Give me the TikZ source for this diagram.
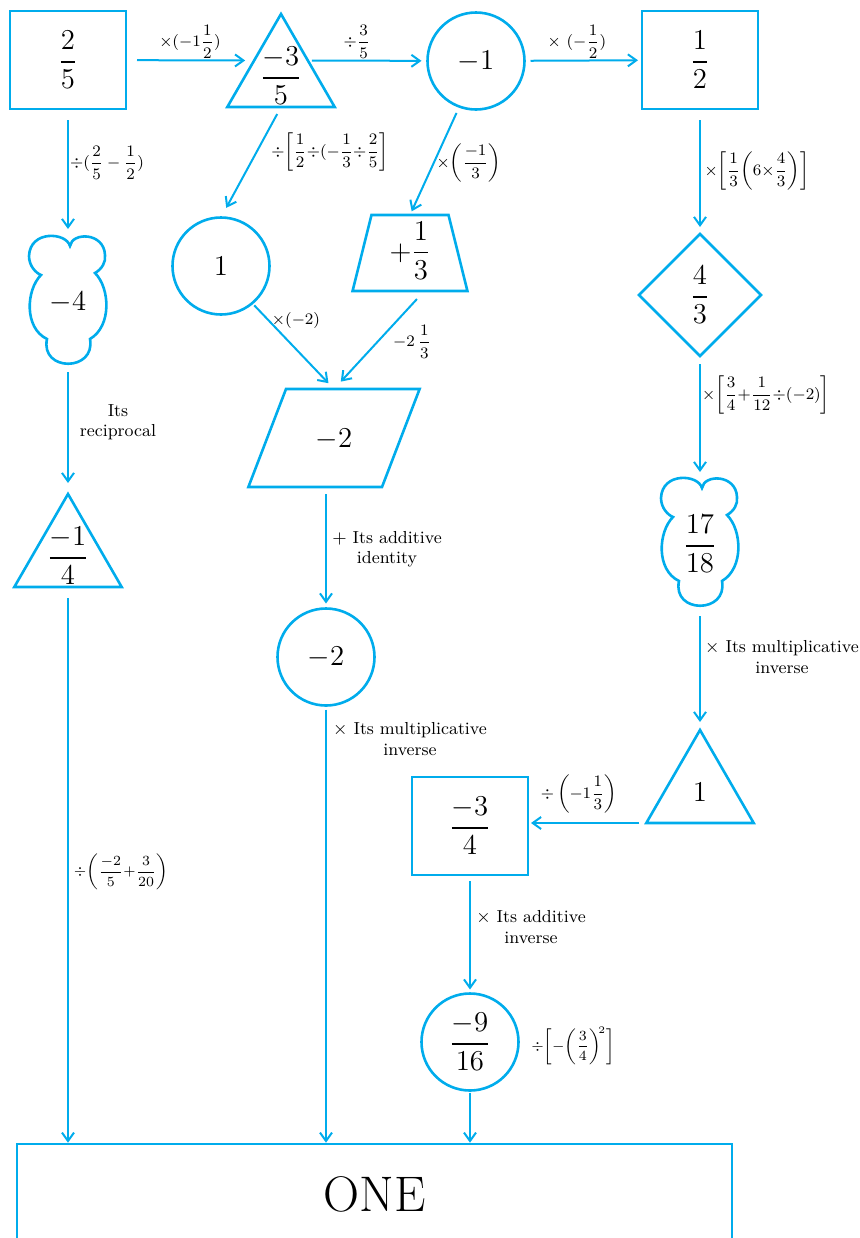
\documentclass[tikz,border=0pt]{standalone}
\usepackage{amsmath,amssymb}
\usepackage{xcolor}
\usepackage{tikz}
\usetikzlibrary{shapes.geometric, positioning, calc, arrows.meta}

\definecolor{flowblue}{RGB}{0,172,236}

\tikzset{
  outline/.style={draw=flowblue, line width=1.3pt},
  numbox/.style={outline, rectangle, minimum width=58pt, minimum height=49pt, inner sep=0pt, outer sep=0pt},
  numcirc/.style={outline, circle, minimum size=48.5pt, inner sep=0pt, outer sep=0pt},
  numtri/.style={outline, regular polygon, regular polygon sides=3, minimum size=62pt, inner sep=-4pt, outer sep=0pt},
  numdiam/.style={outline, diamond, aspect=1, minimum size=61pt, inner sep=0pt, outer sep=0pt},
  numtrap/.style={outline, trapezium, trapezium left angle=76, trapezium right angle=76,
    inner sep=0pt, outer sep=0pt, text width=38.5pt, align=center, text height=22.5pt, text depth=15.5pt},
  numpara/.style={outline, trapezium, trapezium left angle=69, trapezium right angle=111,
    inner sep=0pt, outer sep=0pt, text width=48pt, align=center, text height=29pt, text depth=20pt},
  numblob/.style={rectangle, minimum width=38.5pt, minimum height=63pt, inner sep=0pt, outer sep=0pt},
  flow/.style={draw=flowblue, line width=1pt, -{Straight Barb[length=4.2pt,width=6pt]}},
  oplabel/.style={font=\fontsize{8}{9.6}\selectfont, inner sep=1pt},
  wordlabel/.style={font=\fontsize{8.7}{10.2}\selectfont, align=center, inner sep=1pt},
}
\newcommand{\numfont}{\fontsize{14}{17}\selectfont}
% cloud outline round a named node
\newcommand{\blobpath}[1]{%
  \draw[outline, shift={(#1.center)}] (2,-56)
    .. controls (-2,-70) and (-38,-72) .. (-39,-46)
    .. controls (-39,-36) and (-32,-29) .. (-27,-27)
    .. controls (-42,-12) and (-44,26) .. (-21,37)
    .. controls (-28,70) and (28,70) .. (22,37)
    .. controls (44,24) and (42,-14) .. (27,-29)
    .. controls (34,-33) and (38,-40) .. (37,-47)
    .. controls (36,-70) and (4,-70) .. (2,-56) -- cycle;}

\begin{document}
\begin{tikzpicture}[x=0.5pt, y=-0.5pt]

  \useasboundingbox (0,0) rectangle (860,1238);
  \clip (0,0) rectangle (860,1238);

  % Top row
  \node[numbox]  (twofifth)      at (68,60)  {\numfont $\dfrac{2}{5}$};
  \node[numtri]  (negthreefifth) at (281,76) {\numfont $\dfrac{-3}{5}$};
  \node[numcirc] (negone)        at (476,61) {\numfont $-1$};
  \node[numbox]  (half)          at (700,60) {\numfont $\dfrac{1}{2}$};

  % Left column
  \node[numblob] (negfour)    at (68,302) {\numfont $-4$};
  \node[numtri]  (negquarter) at (68,556) {\numfont $\dfrac{-1}{4}$};
  \blobpath{negfour}

  % Middle part
  \node[numcirc] (unit)       at (221,266) {\numfont $1$};
  \node[numtrap] (thirdplus)  at (410,253) {\numfont $+\dfrac{1}{3}$};
  \node[numpara] (negtwopara) at (334,438) {\numfont $-2$};
  \node[numcirc] (negtwocirc) at (326,657) {\numfont $-2$};

  % Right column
  \node[numdiam] (fourthird)       at (700,295)  {\numfont $\dfrac{4}{3}$};
  \node[numblob] (seventeen)       at (700,544)  {\numfont $\dfrac{17}{18}$};
  \node[numtri]  (unittri)         at (700,792)  {\numfont $1$};
  \node[numbox]  (negthreequarter) at (470,826)  {\numfont $\dfrac{-3}{4}$};
  \node[numcirc] (negninesixteen)  at (470,1042) {\numfont $\dfrac{-9}{16}$};
  \blobpath{seventeen}

  % Result box
  \node[outline, rectangle, minimum width=357.5pt, minimum height=50pt, inner sep=0pt,
        font=\fontsize{25}{30}\selectfont] (result) at (374.5,1194) {ONE};

  % Arrows, top row
  \draw[flow, shorten <=5.5pt, shorten >=4.5pt] (twofifth) -- (negthreefifth.side 1);
  \draw[flow, shorten <=2pt, shorten >=3pt] (negthreefifth.side 3) -- (negone);
  \draw[flow, shorten <=3pt, shorten >=2pt] (negone) -- (half);

  % Arrows, left column
  \draw[flow, shorten <=5.5pt, shorten >=5pt] (twofifth) -- (negfour);
  \draw[flow, shorten <=3.5pt, shorten >=5.5pt] (negfour) -- (negquarter.corner 1);
  \draw[flow, shorten <=5.5pt] (negquarter.side 2) -- (negquarter.side 2 |- result.north);

  % Arrows, middle
  \draw[flow, shorten <=4pt, shorten >=5.5pt] (negthreefifth.side 2) -- (unit.north);
  \draw[flow, shorten <=3.5pt, shorten >=2pt] (negone.250) -- (thirdplus.north);
  \draw[flow, shorten <=1.5pt, shorten >=4pt] (unit.310) -- (negtwopara.north);
  \draw[flow, shorten <=5.5pt, shorten >=5pt]
    ($(thirdplus.south)!0.25!(thirdplus.bottom right corner)$) -- (negtwopara.north);
  \draw[flow, shorten <=3.5pt, shorten >=2.5pt] (negtwocirc |- negtwopara.south) -- (negtwocirc);
  \draw[flow, shorten <=2pt] (negtwocirc) -- (negtwocirc |- result.north);

  % Arrows, right column
  \draw[flow, shorten <=5.5pt, shorten >=3.5pt] (half) -- (fourthird);
  \draw[flow, shorten <=4pt, shorten >=4.5pt] (fourthird) -- (seventeen);
  \draw[flow, shorten <=4.5pt, shorten >=4pt] (seventeen) -- (unittri.corner 1);
  \draw[flow, shorten <=3.5pt, shorten >=1.5pt] (unittri.corner 2) -- (unittri.corner 2 -| negthreequarter.east);
  \draw[flow, shorten <=3pt, shorten >=2pt] (negthreequarter) -- (negninesixteen);
  \draw[flow, shorten <=1pt] (negninesixteen) -- (negninesixteen |- result.north);

  % Operation labels
  \node[oplabel] (optimesa) at (190,42) {$\times(-1\dfrac{1}{2})$};
  \node[oplabel] (opdiva)   at (357,42) {$\div\dfrac{3}{5}$};
  \node[oplabel] (optimesb) at (577,42) {$\times\ (-\dfrac{1}{2})$};
  \node[oplabel] (opdivb)   at (107,163) {$\div(\dfrac{2}{5}-\dfrac{1}{2})$};
  \node[oplabel] (opdivc)   at (330,152) {$\div\!\left[\dfrac{1}{2}{\div}(-\dfrac{1}{3}{\div}\dfrac{2}{5}\right]$};
  \node[oplabel] (optimesc) at (469,163) {$\times\!\left(\dfrac{-1}{3}\right)$};
  \node[oplabel] (optimesd) at (757,171) {$\times{\left[\dfrac{1}{3}{\left(6{\times}\dfrac{4}{3}\right)}\right]}$};
  \node[oplabel] (optimese) at (296,320) {$\times(-2)$};
  \node[oplabel] (opminus)  at (412,342) {$-2\,\dfrac{1}{3}$};
  \node[oplabel] (optimesf) at (766,395) {$\times{\left[\dfrac{3}{4}{+}\dfrac{1}{12}{\div}(-2)\right]}$};
  \node[oplabel] (opdivd)   at (579,794) {$\div\left(-1\dfrac{1}{3}\right)$};
  \node[oplabel, font=\fontsize{7.5}{9}\selectfont] (opdive) at (573,1046)
    {$\div\biggl[{-}\biggl(\dfrac{3}{4}\biggr)^{\!2}\biggr]$};
  \node[oplabel, font=\fontsize{7.5}{9}\selectfont] (opdivf) at (121,872)
    {$\div\biggl(\dfrac{-2}{5}{+}\dfrac{3}{20}\biggr)$};

  % Word labels
  \node[wordlabel] (wrecip)  at (118,422) {Its\\reciprocal};
  \node[wordlabel] (wident)  at (387,549) {$+$ Its additive\\identity};
  \node[wordlabel] (wmulta)  at (410,739) {$\times$ Its multiplicative\\inverse};
  \node[wordlabel] (wmultb)  at (782,657) {$\times$ Its multiplicative\\inverse};
  \node[wordlabel] (wadd)    at (531,927) {$\times$ Its additive\\inverse};

\end{tikzpicture}
\end{document}
